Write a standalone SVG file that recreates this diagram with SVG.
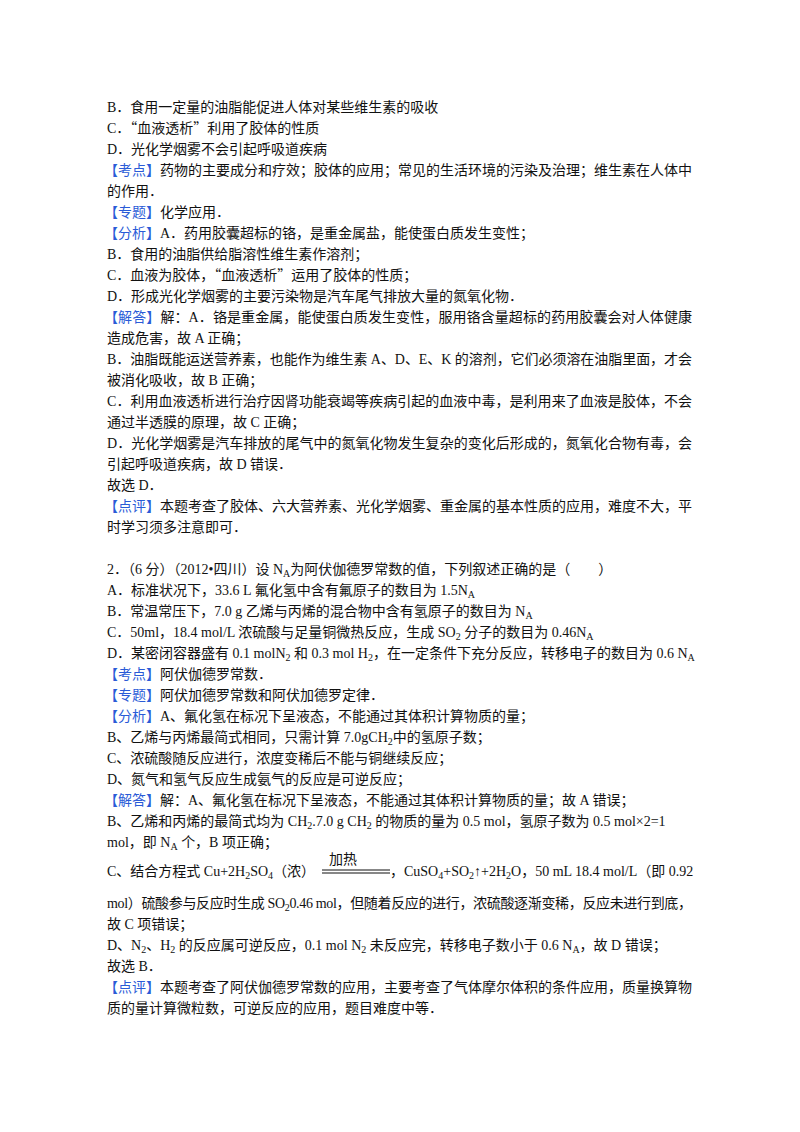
<svg xmlns="http://www.w3.org/2000/svg" width="800" height="1132" viewBox="0 0 800 1132">
<style>
text{font-family:"Liberation Serif","Noto Sans CJK SC",serif;font-size:14px;fill:#111}
.b{fill:#2a5bd7}
.s{font-size:10px}
.q{font-family:"Noto Sans CJK SC",sans-serif}
</style>
<rect width="800" height="1132" fill="#fff"/>
<g id="q1">
<text x="107" y="112">B．食用一定量的油脂能促进人体对某些维生素的吸收</text>
<text x="107" y="133">C．<tspan class="q">“</tspan>血液透析<tspan class="q">”</tspan>利用了胶体的性质</text>
<text x="107" y="154">D．光化学烟雾不会引起呼吸道疾病</text>
<text x="104" y="175" textLength="588" lengthAdjust="spacing"><tspan class="b">【考点】</tspan>药物的主要成分和疗效；胶体的应用；常见的生活环境的污染及治理；维生素在人体中</text>
<text x="107" y="196">的作用．</text>
<text x="104" y="217"><tspan class="b">【专题】</tspan>化学应用．</text>
<text x="104" y="238"><tspan class="b">【分析】</tspan>A．药用胶囊超标的铬，是重金属盐，能使蛋白质发生变性；</text>
<text x="107" y="259">B．食用的油脂供给脂溶性维生素作溶剂；</text>
<text x="107" y="280">C．血液为胶体，<tspan class="q">“</tspan>血液透析<tspan class="q">”</tspan>运用了胶体的性质；</text>
<text x="107" y="301">D．形成光化学烟雾的主要污染物是汽车尾气排放大量的氮氧化物．</text>
<text x="104" y="322" textLength="588" lengthAdjust="spacing"><tspan class="b">【解答】</tspan>解：A．铬是重金属，能使蛋白质发生变性，服用铬含量超标的药用胶囊会对人体健康</text>
<text x="107" y="343">造成危害，故 A 正确；</text>
<text x="107" y="364" textLength="585" lengthAdjust="spacing">B．油脂既能运送营养素，也能作为维生素 A、D、E、K 的溶剂，它们必须溶在油脂里面，才会</text>
<text x="107" y="385">被消化吸收，故 B 正确；</text>
<text x="107" y="406" textLength="585" lengthAdjust="spacing">C．利用血液透析进行治疗因肾功能衰竭等疾病引起的血液中毒，是利用来了血液是胶体，不会</text>
<text x="107" y="427">通过半透膜的原理，故 C 正确；</text>
<text x="107" y="448" textLength="585" lengthAdjust="spacing">D．光化学烟雾是汽车排放的尾气中的氮氧化物发生复杂的变化后形成的，氮氧化合物有毒，会</text>
<text x="107" y="469">引起呼吸道疾病，故 D 错误．</text>
<text x="107" y="490">故选 D．</text>
<text x="104" y="511" textLength="588" lengthAdjust="spacing"><tspan class="b">【点评】</tspan>本题考查了胶体、六大营养素、光化学烟雾、重金属的基本性质的应用，难度不大，平</text>
<text x="107" y="532">时学习须多注意即可．</text>
</g>
<g id="q2">
<text x="107" y="574">2．（6 分）（2012•四川）设 N<tspan class="s" dy="3">A</tspan><tspan dy="-3">为阿伏伽德罗常数的值，下列叙述正确的是（　　）</tspan></text>
<text x="107" y="595">A．标准状况下，33.6 L 氟化氢中含有氟原子的数目为 1.5N<tspan class="s" dy="3">A</tspan></text>
<text x="107" y="616">B．常温常压下，7.0 g 乙烯与丙烯的混合物中含有氢原子的数目为 N<tspan class="s" dy="3">A</tspan></text>
<text x="107" y="637">C．50ml，18.4 mol/L 浓硫酸与足量铜微热反应，生成 SO<tspan class="s" dy="3">2</tspan><tspan dy="-3"> 分子的数目为 0.46N</tspan><tspan class="s" dy="3">A</tspan></text>
<text x="107" y="658">D．某密闭容器盛有 0.1 molN<tspan class="s" dy="3">2</tspan><tspan dy="-3"> 和 0.3 mol H</tspan><tspan class="s" dy="3">2</tspan><tspan dy="-3">，在一定条件下充分反应，转移电子的数目为 0.6 N</tspan><tspan class="s" dy="3">A</tspan></text>
<text x="104" y="679"><tspan class="b">【考点】</tspan>阿伏伽德罗常数．</text>
<text x="104" y="700"><tspan class="b">【专题】</tspan>阿伏加德罗常数和阿伏加德罗定律．</text>
<text x="104" y="721"><tspan class="b">【分析】</tspan>A、氟化氢在标况下呈液态，不能通过其体积计算物质的量；</text>
<text x="107" y="742">B、乙烯与丙烯最简式相同，只需计算 7.0gCH<tspan class="s" dy="3">2</tspan><tspan dy="-3">中的氢原子数；</tspan></text>
<text x="107" y="763">C、浓硫酸随反应进行，浓度变稀后不能与铜继续反应；</text>
<text x="107" y="784">D、氮气和氢气反应生成氨气的反应是可逆反应；</text>
<text x="104" y="805"><tspan class="b">【解答】</tspan>解：A、氟化氢在标况下呈液态，不能通过其体积计算物质的量；故 A 错误；</text>
<text x="107" y="826">B、乙烯和丙烯的最简式均为 CH<tspan class="s" dy="3">2</tspan><tspan dy="-3">.7.0 g CH</tspan><tspan class="s" dy="3">2</tspan><tspan dy="-3"> 的物质的量为 0.5 mol，氢原子数为 0.5 mol×2=1</tspan></text>
<text x="107" y="847">mol，即 N<tspan class="s" dy="3">A</tspan><tspan dy="-3"> 个，B 项正确；</tspan></text>
<text x="107" y="876">C、结合方程式 Cu+2H<tspan class="s" dy="3">2</tspan><tspan dy="-3">SO</tspan><tspan class="s" dy="3">4</tspan><tspan dy="-3">（浓）</tspan></text>
<text x="329" y="864" font-size="18">加热</text>
<line x1="322" y1="870" x2="390" y2="870" stroke="#111" stroke-width="1.2"/>
<line x1="322" y1="873" x2="390" y2="873" stroke="#111" stroke-width="1.2"/>
<text x="390" y="876">，CuSO<tspan class="s" dy="3">4</tspan><tspan dy="-3">+SO</tspan><tspan class="s" dy="3">2</tspan><tspan dy="-3">↑+2H</tspan><tspan class="s" dy="3">2</tspan><tspan dy="-3">O，50 mL 18.4 mol/L（即 0.92</tspan></text>
<text x="107" y="908" textLength="585" lengthAdjust="spacing">mol）硫酸参与反应时生成 SO<tspan class="s" dy="3">2</tspan><tspan dy="-3">0.46 mol，但随着反应的进行，浓硫酸逐渐变稀，反应未进行到底，</tspan></text>
<text x="107" y="929">故 C 项错误；</text>
<text x="107" y="950">D、N<tspan class="s" dy="3">2</tspan><tspan dy="-3">、H</tspan><tspan class="s" dy="3">2</tspan><tspan dy="-3"> 的反应属可逆反应，0.1 mol N</tspan><tspan class="s" dy="3">2</tspan><tspan dy="-3"> 未反应完，转移电子数小于 0.6 N</tspan><tspan class="s" dy="3">A</tspan><tspan dy="-3">，故 D 错误；</tspan></text>
<text x="107" y="971">故选 B．</text>
<text x="104" y="992" textLength="588" lengthAdjust="spacing"><tspan class="b">【点评】</tspan>本题考查了阿伏伽德罗常数的应用，主要考查了气体摩尔体积的条件应用，质量换算物</text>
<text x="107" y="1013">质的量计算微粒数，可逆反应的应用，题目难度中等．</text>
</g>
</svg>
